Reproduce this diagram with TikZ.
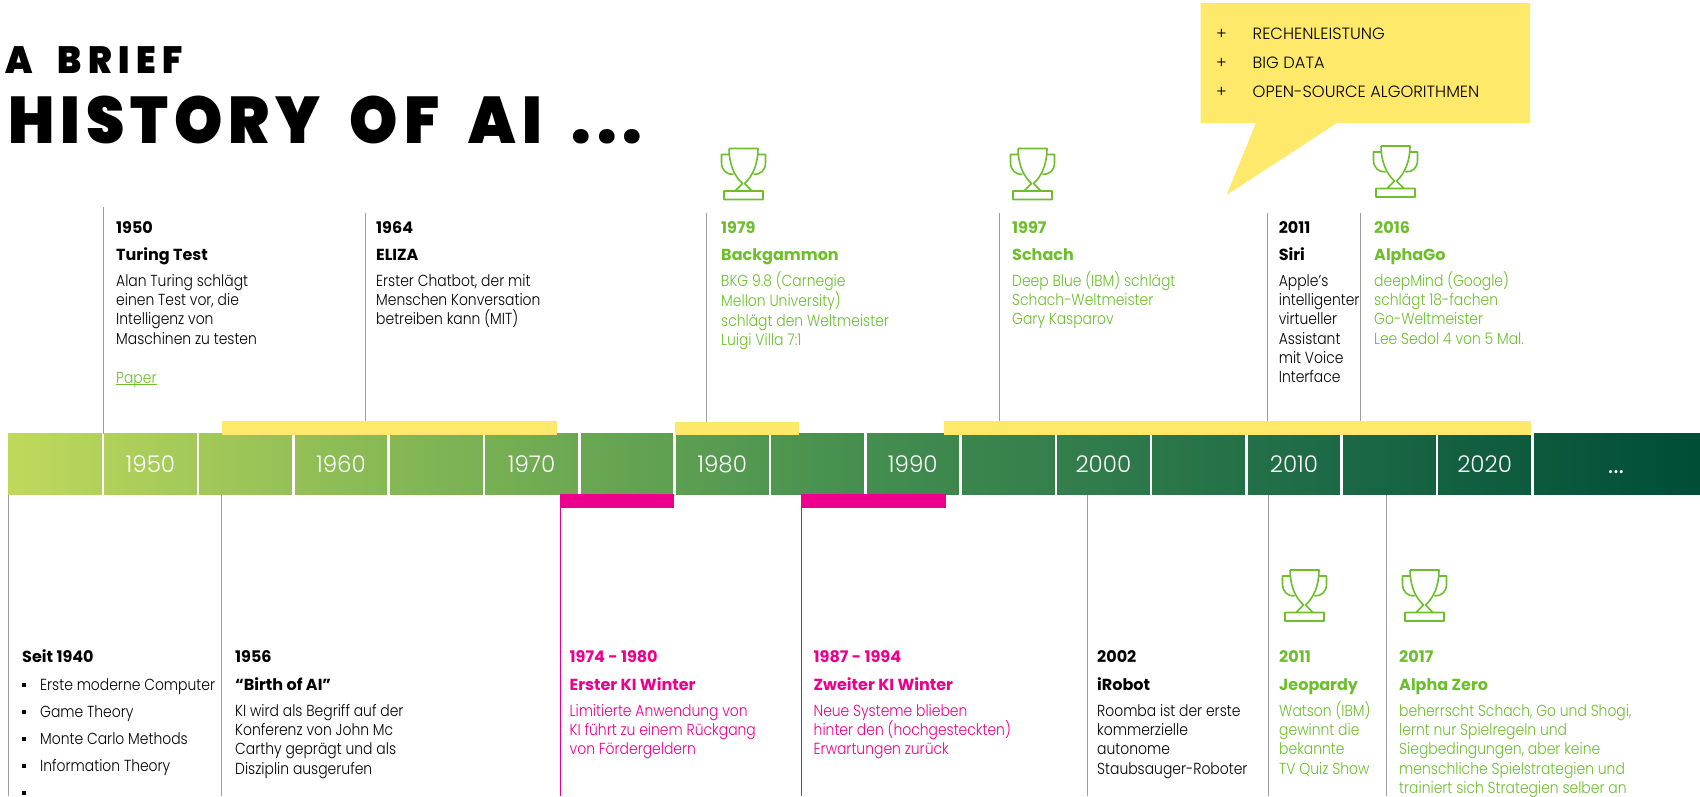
\documentclass[tikz,border=0pt]{standalone}
\usepackage{fontspec}
\setmainfont{Poppins}[FakeStretch=0.87,UprightFont=* Light]
\newfontfamily\headtext{Poppins}[UprightFont=* Bold]
\newfontfamily\plaintext{Poppins}[UprightFont=* Light]
\newfontfamily\briefhead{Poppins}[UprightFont=* Black,FakeStretch=0.93,LetterSpace=17,WordSpace=2]
\newfontfamily\historyhead{Poppins}[UprightFont=* Black,FakeStretch=0.93,LetterSpace=9,WordSpace=1.8]
\usetikzlibrary{positioning}
\pgfdeclarehorizontalshading{stripshade}{100bp}{
	rgb(0bp)=(0.75,0.85,0.36);
	rgb(25bp)=(0.75,0.85,0.36);
	rgb(37.5bp)=(0.50,0.71,0.33);
	rgb(50bp)=(0.27,0.56,0.31);
	rgb(62.5bp)=(0.13,0.43,0.28);
	rgb(75bp)=(0,0.30,0.22);
	rgb(100bp)=(0,0.30,0.22)}
\definecolor{wingreen}{RGB}{108,190,45}
\definecolor{winterpink}{RGB}{236,0,140}
\definecolor{barline}{RGB}{160,160,160}
\definecolor{baryellow}{RGB}{255,233,107}
\newcommand{\topline}{\lineskiplimit=-20pt\relax\rule{0pt}{20pt}}
\begin{document}
\begin{tikzpicture}[
	x=1pt, y=-1pt,
	info/.style = {anchor=north west, inner sep=0pt, align=left, font=\fontsize{16}{19.1}\selectfont},
	topic/.style = {anchor=base west, inner sep=0pt, font=\fontsize{16}{19.1}\selectfont},
	driver/.style = {anchor=base west, inner sep=0pt, font=\fontsize{16.3}{19.1}\plaintext},
	head/.style = {anchor=base west, inner sep=0pt, font=\fontsize{16}{19}\headtext},
	year/.style = {inner sep=0pt, text=white, font=\fontsize{23}{24}\plaintext},
	stem/.style = {draw=barline, line width=0.8pt},
	winterstem/.style = {draw=winterpink, line width=0.8pt},
	win/.style = {text=wingreen},
	winter/.style = {text=winterpink},
	yellowbar/.style = {fill=baryellow, draw=none},
	pinkbar/.style = {fill=winterpink, draw=none},
	trophy/.pic = {
		\draw [wingreen, line width=1.6pt, line join=round]
			(-14.5,0) -- (14.5,0) .. controls (14.5,14) and (10,27) .. (1,35) -- (9,43) (-14.5,0) .. controls (-14.5,14) and (-10,27) .. (-1,35) -- (-9,43)
			(-14.5,6) -- (-22,6) -- (-22,14) .. controls (-22,22) and (-17,26) .. (-10,26)
			(14.5,6) -- (22,6) -- (22,14) .. controls (22,22) and (17,26) .. (10,26)
			(-19.5,42.5) rectangle (19.5,51);
	}
	]
	\useasboundingbox (0,0) rectangle (1700,796);
	
	% Title
	\node [inner sep=0pt, anchor=base west, font=\fontsize{38}{38}\briefhead] (brief) at (5,73) {A BRIEF};
	\node [inner sep=0pt, anchor=base west, font=\fontsize{66}{66}\historyhead] (history) at (8,143) {HISTORY OF AI ...};
	
	% Timeline
	\node [inner sep=0pt, minimum width=1692pt, minimum height=61pt, anchor=north west, shading=stripshade] (strip) at (8,433.5) {};
	\foreach \k in {1,...,16}
		\draw [white, line width=2.6pt] (7.5+\k*95.3,433) -- (7.5+\k*95.3,495);
	\foreach \k/\lab in {1/1950,3/1960,5/1970,7/1980,9/1990,11/2000,13/2010,15/2020}
		\node [year] (y\lab) at (7.5+\k*95.3+47.6,464) {\lab};
	\node [year, anchor=base, font=\fontsize{30}{30}\plaintext] (ydots) at (1616,473) {...};
	
	% Bars
	\node [yellowbar, inner sep=0pt, minimum width=335pt, minimum height=14pt, anchor=north west] (hype1) at (222,421) {};
	\node [yellowbar, inner sep=0pt, minimum width=124pt, minimum height=13pt, anchor=north west] (hype2) at (675,422) {};
	\node [yellowbar, inner sep=0pt, minimum width=587pt, minimum height=14pt, anchor=north west] (hype3) at (944,421) {};
	\node [pinkbar, inner sep=0pt, minimum width=114pt, minimum height=14pt, anchor=north west] (winter1) at (560,494) {};
	\node [pinkbar, inner sep=0pt, minimum width=145pt, minimum height=14pt, anchor=north west] (winter2) at (801,494) {};
	
	% Upper events
	\coordinate (t1950) at (103.6,207);
	\coordinate (t1964) at (365.6,213);
	\coordinate (t1979) at (706.7,213);
	\coordinate (t1997) at (999.5,213);
	\coordinate (t2011) at (1267.8,213);
	\coordinate (t2016) at (1360,213);
	\draw [stem] (t1950) -- (t1950 |- strip.north);
	\draw [stem] (t1964) -- (t1964 |- hype1.north);
	\draw [stem] (t1979) -- (t1979 |- hype2.north);
	\draw [stem] (t1997) -- (t1997 |- hype3.north);
	\draw [stem] (t2011) -- (t2011 |- hype3.north);
	\draw [stem] (t2016) -- (t2016 |- hype3.north);
	
	\node [head] (h1950) at (116,233) {1950};
	\node [head] (n1950) at (116,260) {Turing Test};
	\node [info] (b1950) at (116,266.5) {\topline Alan Turing schlägt\\einen Test vor, die\\Intelligenz von\\Maschinen zu testen};
	\node [info, win] (paper) at (116,363) {\topline\underline{\smash{Paper}}};
	
	\node [head] (h1964) at (376,233) {1964};
	\node [head] (n1964) at (376,260) {ELIZA};
	\node [info] (b1964) at (376,266.5) {\topline Erster Chatbot, der mit\\Menschen Konversation\\betreiben kann (MIT)};
	
	\node [head, win] (h1979) at (721,233) {1979};
	\node [head, win] (n1979) at (721,260) {Backgammon};
	\node [info, win] (b1979) at (721,266.5) {\topline BKG 9.8 (Carnegie\\Mellon University)\\schlägt den Weltmeister\\Luigi Villa 7:1};
	
	\node [head, win] (h1997) at (1012,233) {1997};
	\node [head, win] (n1997) at (1012,260) {Schach};
	\node [info, win] (b1997) at (1012,266.5) {\topline Deep Blue (IBM) schlägt\\Schach-Weltmeister\\Gary Kasparov};
	
	\node [head] (h2011) at (1278.6,233) {2011};
	\node [head] (n2011) at (1278.6,260) {Siri};
	\node [info] (b2011) at (1278.6,266.5) {\topline Apple’s\\intelligenter\\virtueller\\Assistant\\mit Voice\\Interface};
	
	\node [head, win] (h2016) at (1374,233) {2016};
	\node [head, win] (n2016) at (1374,260) {AlphaGo};
	\node [info, win] (b2016) at (1374,266.5) {\topline deepMind (Google)\\schlägt 18-fachen\\Go-Weltmeister\\Lee Sedol 4 von 5 Mal.};
	
	% Trophies
	\pic at (743.5,148.5) {trophy};
	\pic at (1032.5,148.5) {trophy};
	\pic at (1395.5,146) {trophy};
	\pic at (1304.5,570) {trophy};
	\pic at (1424.5,570) {trophy};
	
	% Callout
	\fill [baryellow] (1200.5,3) -- (1530,3) -- (1530,123) -- (1337,123) -- (1226.5,195) -- (1256,123) -- (1200.5,123) -- cycle;
	\foreach \y/\lab in {39.5/RECHENLEISTUNG,68/BIG DATA,97/OPEN-SOURCE ALGORITHMEN}{
		\node [driver] (plus\y) at (1216,\y) {+};
		\node [driver] (drive\y) at (1252.5,\y) {\lab};
	}
	
	% Lower events
	\coordinate (l1940) at (8,795.5);
	\coordinate (l1956) at (221.7,795.5);
	\coordinate (l1974) at (560.5,795.5);
	\coordinate (l1987) at (801.5,795.5);
	\coordinate (l2002) at (1087.4,795.5);
	\coordinate (l2011) at (1268,795.5);
	\coordinate (l2017) at (1386.6,795.5);
	\draw [stem] (l1940) -- (l1940 |- strip.south);
	\draw [stem] (l1956) -- (l1956 |- strip.south);
	\draw [winterstem] (l1974) -- (l1974 |- winter1.south);
	\draw [winterstem] (l1987) -- (l1987 |- winter2.south);
	\draw [stem] (l2002) -- (l2002 |- strip.south);
	\draw [stem] (l2011) -- (l2011 |- strip.south);
	\draw [stem] (l2017) -- (l2017 |- strip.south);
	
	\node [head] (h1940) at (22,662) {Seit 1940};
	\foreach \y/\lab in {685/Erste moderne Computer,712/Game Theory,739/Monte Carlo Methods,766/Information Theory}{
		\fill (24,\y) +(-2,-2) rectangle +(2,2);
		\node [topic] (topic\y) at (40,\y+5.5) {\lab};
	}
	\fill (24,793) +(-2,-2) rectangle +(2,2);
	
	\node [head] (h1956) at (235,662) {1956};
	\node [head] (n1956) at (235,690) {“Birth of AI”};
	\node [info] (b1956) at (235,696.5) {\topline KI wird als Begriff auf der\\Konferenz von John Mc\\Carthy geprägt und als\\Disziplin ausgerufen};
	
	\node [head, winter] (h1974) at (569.5,662) {1974 - 1980};
	\node [head, winter] (n1974) at (569.5,690) {Erster KI Winter};
	\node [info, winter] (b1974) at (569.5,696.5) {\topline Limitierte Anwendung von\\KI führt zu einem Rückgang\\von Fördergeldern};
	
	\node [head, winter] (h1987) at (813.5,662) {1987 - 1994};
	\node [head, winter] (n1987) at (813.5,690) {Zweiter KI Winter};
	\node [info, winter] (b1987) at (813.5,696.5) {\topline Neue Systeme blieben\\hinter den (hochgesteckten)\\Erwartungen zurück};
	
	\node [head] (h2002) at (1097,662) {2002};
	\node [head] (n2002) at (1097,690) {iRobot};
	\node [info] (b2002) at (1097,696.5) {\topline Roomba ist der erste\\kommerzielle\\autonome\\Staubsauger-Roboter};
	
	\node [head, win] (h2011b) at (1279,662) {2011};
	\node [head, win] (n2011b) at (1279,690) {Jeopardy};
	\node [info, win] (b2011b) at (1279,696.5) {\topline Watson (IBM)\\gewinnt die\\bekannte\\TV Quiz Show};
	
	\node [head, win] (h2017) at (1399,662) {2017};
	\node [head, win] (n2017) at (1399,690) {Alpha Zero};
	\node [info, win] (b2017) at (1399,696.5) {\topline beherrscht Schach, Go und Shogi,\\lernt nur Spielregeln und\\Siegbedingungen, aber keine\\menschliche Spielstrategien und\\trainiert sich Strategien selber an};
\end{tikzpicture}
\end{document}
